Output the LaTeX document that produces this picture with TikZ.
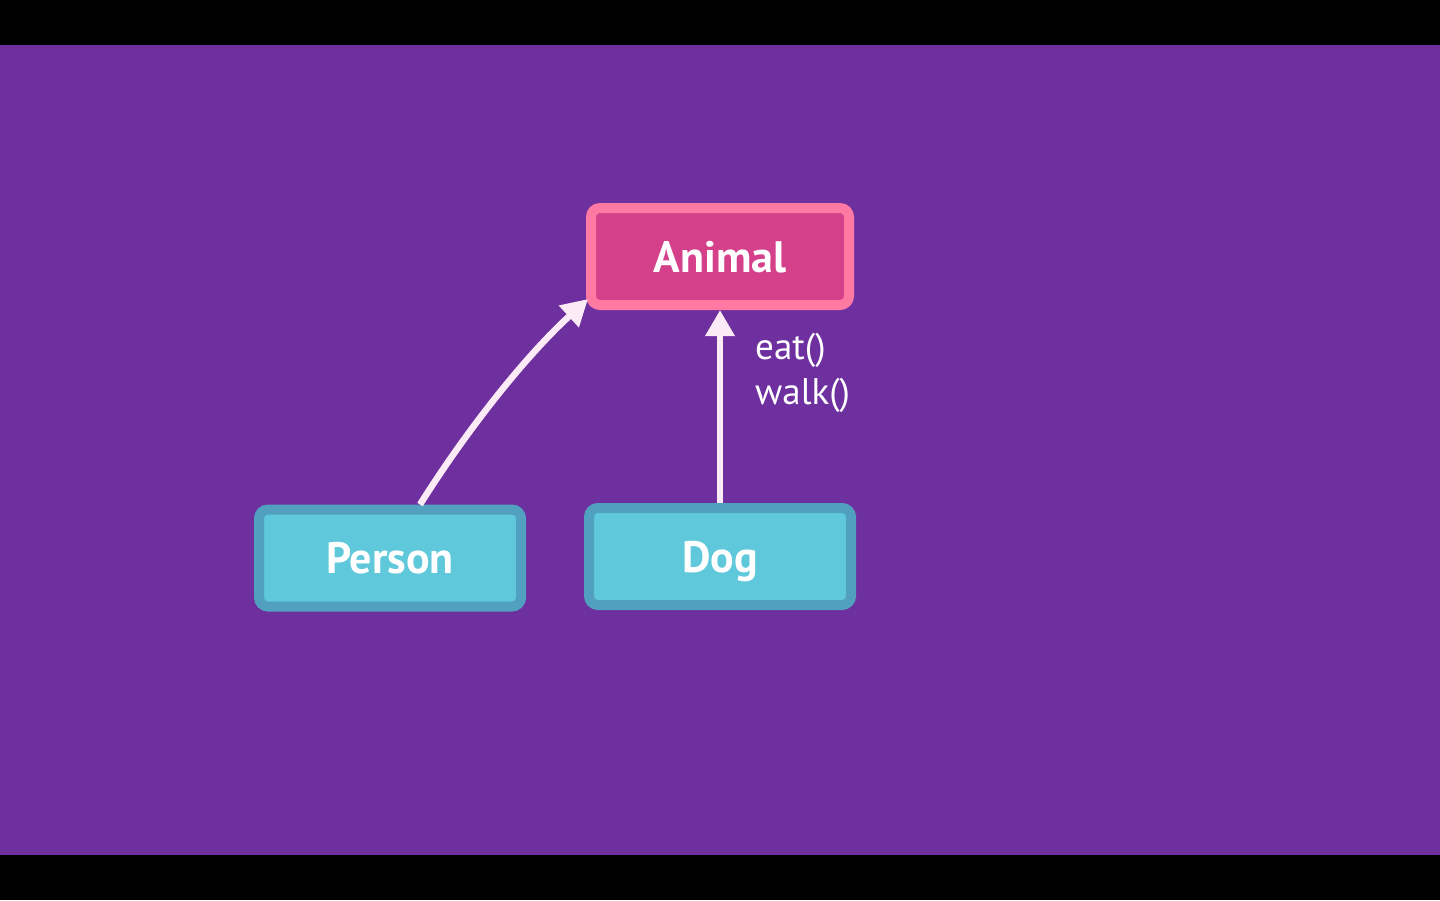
\documentclass[tikz,border=0pt]{standalone}
\usepackage{fontspec}
\setmainfont{PT Sans}
\usetikzlibrary{arrows.meta}
\definecolor{bgpurple}{HTML}{6E2F9F}
\definecolor{animalfill}{HTML}{D4418A}
\definecolor{animalline}{HTML}{FF7AA2}
\definecolor{subfill}{HTML}{5FC8DB}
\definecolor{subline}{HTML}{52A0BF}
\definecolor{arrowcol}{HTML}{FCEAF7}
\tikzset{
  classbox/.style={draw, line width=10pt, rounded corners=9pt, minimum height=97pt,
    text=white, font=\fontsize{44}{48}\selectfont\bfseries, inner sep=0pt,
    text height=31pt, text depth=0pt},
  parentbox/.style={classbox, fill=animalfill, draw=animalline, minimum width=258pt},
  childbox/.style={classbox, fill=subfill, draw=subline, minimum width=262pt},
  inherit/.style={draw=arrowcol, line width=6.5pt, -{Triangle[length=26pt,width=28pt]}},
  methods/.style={text=white, font=\fontsize{37}{45}\selectfont, align=left, anchor=base west, inner sep=0pt}
}
\begin{document}
\begin{tikzpicture}[x=1pt,y=-1pt]
\useasboundingbox (0,0) rectangle (1440,900);
\fill[black] (0,0) rectangle (1440,900);
\fill[bgpurple] (0,45) rectangle (1440,855);
\node[parentbox] (animal) at (720,256.5) {Animal};
\node[childbox] (person) at (390,558) {Person};
\node[childbox] (dog) at (720,556.5) {Dog};
\draw[inherit] ([xshift=30pt]person.north) .. controls (472,422) and (530,352) .. ([xshift=2pt,yshift=11pt]animal.south west);
\draw[inherit] (dog.north) -- (animal.south);
\node[methods] (meth) at (755,404) {eat()\\walk()};
\end{tikzpicture}
\end{document}
